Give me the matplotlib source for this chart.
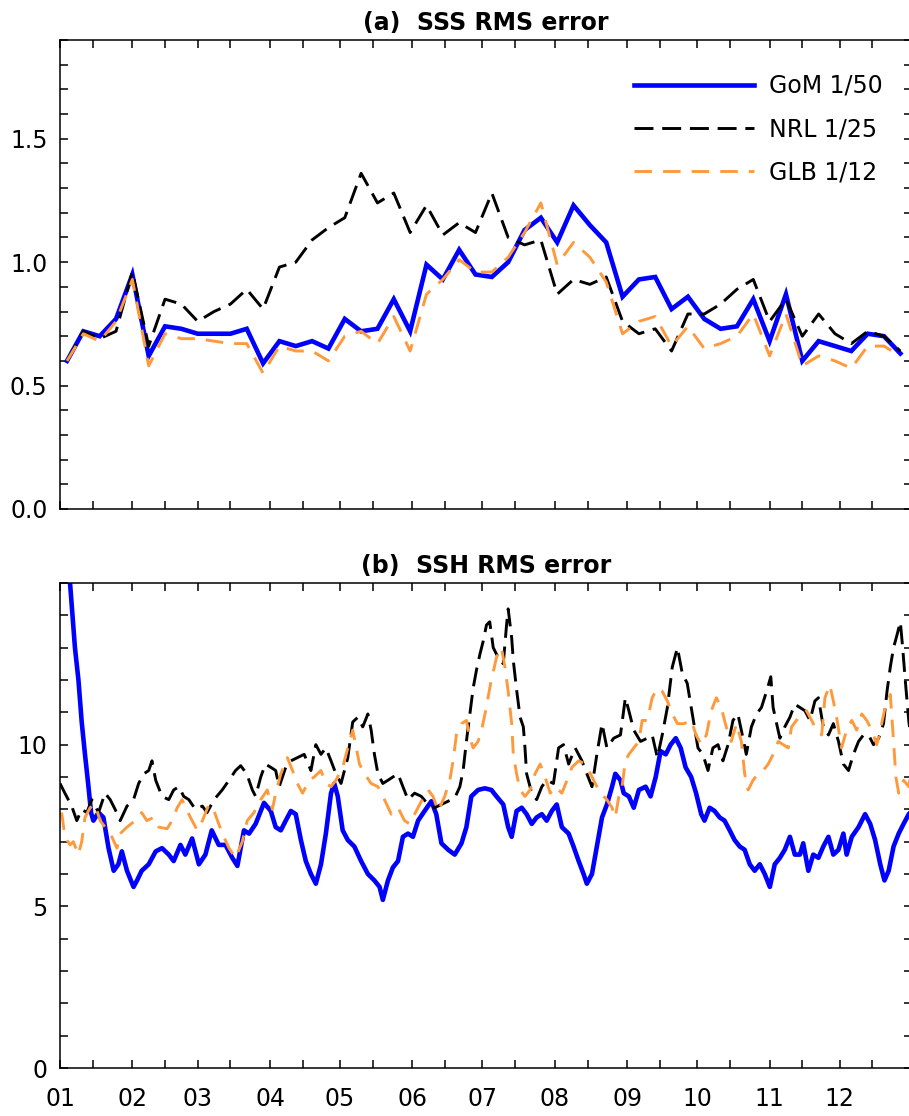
import numpy as np
import matplotlib
matplotlib.use("Agg")
import matplotlib.pyplot as plt
from matplotlib.ticker import FixedLocator, MultipleLocator, NullFormatter

plt.rcParams['font.family'] = ['DejaVu Sans']

# ---------------- data ----------------
month_labels = ['01', '02', '03', '04', '05', '06', '07', '08', '09', '10', '11', '12']
month_start_days = [0, 31, 59, 90, 120, 151, 181, 212, 243, 273, 304, 334]
mid_month_days = [14, 45, 73, 104, 134, 165, 195, 226, 257, 287, 318, 348]

series_names = ['GoM 1/50', 'NRL 1/25', 'GLB 1/12']

sss_yticks = [0.0, 0.5, 1.0, 1.5]
ssh_yticks = [0, 5, 10]

# (a) SSS RMS error, weekly values
sss_week_days = list(range(3, 365, 7))
sss_gom = [0.60, 0.72, 0.70, 0.77, 0.95, 0.62, 0.74, 0.73, 0.71, 0.71,
           0.71, 0.73, 0.59, 0.68, 0.66, 0.68, 0.65, 0.77, 0.72, 0.73,
           0.85, 0.72, 0.99, 0.93, 1.05, 0.95, 0.94, 1.00, 1.13, 1.18,
           1.08, 1.23, 1.15, 1.08, 0.86, 0.93, 0.94, 0.81, 0.86, 0.77,
           0.73, 0.74, 0.85, 0.68, 0.87, 0.60, 0.68, 0.66, 0.64, 0.71,
           0.70, 0.63]
sss_nrl = [0.60, 0.72, 0.69, 0.72, 0.96, 0.66, 0.85, 0.83, 0.76, 0.80,
           0.83, 0.89, 0.81, 0.98, 1.00, 1.09, 1.14, 1.18, 1.36, 1.24,
           1.28, 1.12, 1.23, 1.11, 1.16, 1.12, 1.28, 1.10, 1.07, 1.09,
           0.87, 0.93, 0.91, 0.94, 0.76, 0.71, 0.73, 0.64, 0.79, 0.79,
           0.83, 0.89, 0.93, 0.76, 0.85, 0.70, 0.79, 0.71, 0.67, 0.72,
           0.70, 0.64]
sss_glb = [0.60, 0.71, 0.68, 0.76, 0.93, 0.58, 0.71, 0.69, 0.69, 0.68,
           0.67, 0.67, 0.55, 0.66, 0.64, 0.64, 0.60, 0.70, 0.72, 0.67,
           0.78, 0.64, 0.87, 0.93, 1.01, 0.96, 0.96, 1.02, 1.12, 1.24,
           0.99, 1.08, 1.02, 0.92, 0.71, 0.76, 0.78, 0.66, 0.74, 0.65,
           0.67, 0.70, 0.79, 0.62, 0.79, 0.58, 0.62, 0.60, 0.57, 0.66,
           0.66, 0.62]

# (b) SSH RMS error (day of year, value)
ssh_gom_days = [0, 4.3, 6.4, 7.9, 9.3, 10.7, 12.2, 13.3, 14.3, 16.5, 18.6, 20.8, 23, 25, 26.5,
                28.7, 31.5, 33, 35, 38, 41, 43.7, 46.6, 48.7, 51.6, 53.7, 56.6, 59.5, 62.3, 65,
                68, 70.9, 73.8, 76, 78.8, 81, 83.8, 87.4, 90.3, 92.4, 94.6, 96.7, 98.9, 101,
                103.2, 105.3, 107.5, 109.6, 111.8, 113.9, 116.1, 117.5, 119, 121.1, 123.3,
                126.1, 129, 131.9, 134.7, 136.9, 138.3, 140.5, 142.6, 144.8, 146.9, 149.1,
                151.2, 153.4, 156.2, 159.1, 161.2, 163.4, 166.3, 169.1, 172, 174.1, 176.2,
                179.1, 182, 184.8, 187, 189.9, 192, 193.5, 195.6, 197.8, 199.9, 202.1, 204.2,
                206.4, 208.5, 210.7, 212.8, 215, 217.9, 220, 222.2, 224.3, 225.7, 227.9, 230,
                232.2, 234.3, 236.5, 237.9, 240.1, 241.5, 243.7, 245.8, 248, 250.9, 253, 255.2,
                257.3, 259.5, 261.6, 263.8, 265.9, 268, 270.4, 272.5, 274.7, 276.1, 278.3,
                280.4, 282.6, 284.7, 286.9, 289, 291.2, 293.3, 295.5, 297.6, 299.8, 301.9,
                304.1, 306.2, 308.4, 310.5, 312.7, 314.8, 317, 318.4, 320.6, 322.7, 324.9, 327,
                329.2, 331.3, 333.5, 335.6, 337, 339.2, 342.1, 344.9, 347.1, 349.2, 351.4,
                353.2, 355, 357.1, 359.3, 361.4, 363.6, 364.3, 365]
ssh_gom_vals = [18.0, 15.0, 13.0, 12.0, 10.7, 9.7, 8.7, 7.9, 7.65, 7.9, 7.75, 6.8, 6.1, 6.3, 6.7,
                6.1, 5.6, 5.8, 6.1, 6.3, 6.7, 6.8, 6.6, 6.4, 6.9, 6.6, 7.1, 6.3, 6.6, 7.35,
                6.9, 6.9, 6.5, 6.25, 7.35, 7.25, 7.55, 8.2, 7.95, 7.45, 7.35, 7.65, 7.95, 7.85,
                7.05, 6.4, 6.0, 5.7, 6.3, 7.25, 8.5, 8.8, 8.4, 7.35, 7.05,
                6.85, 6.4, 6.0, 5.8, 5.6, 5.2, 5.8, 6.2, 6.4, 7.15, 7.25,
                7.15, 7.65, 7.95, 8.25, 7.85, 6.95, 6.75, 6.6, 6.95, 7.45, 8.4,
                8.6, 8.65, 8.6, 8.4, 8.15, 7.45, 7.15, 7.95, 8.05, 7.85, 7.55, 7.75,
                7.85, 7.65, 7.95, 8.15, 7.45, 7.25, 6.85, 6.4, 6.0, 5.7, 6.0, 6.85,
                7.75, 8.15, 8.7, 9.1, 8.9, 8.5, 8.4, 8.05, 8.6, 8.7, 8.4, 9.0,
                9.8, 9.7, 10.0, 10.2, 9.9, 9.3, 9.0, 8.5, 7.85, 7.65, 8.05,
                7.95, 7.75, 7.65, 7.35, 7.05, 6.85, 6.75, 6.3, 6.1, 6.3, 6.0,
                5.6, 6.3, 6.5, 6.75, 7.15, 6.6, 6.6, 6.95, 6.1, 6.6, 6.5, 6.85,
                7.15, 6.6, 6.75, 7.25, 6.6, 7.15, 7.45, 7.85, 7.55, 7.05, 6.3,
                5.8, 6.1, 6.85, 7.25, 7.55, 7.85, 7.9, 6.6]

ssh_nrl_days = [0, 2.1, 5, 7.2, 9.3, 11.5, 13.6, 16.5, 19.3, 21.5, 23.6, 25.8, 28.7, 31.5, 33.7,
                35.9, 38, 39.4, 41, 43.7, 46.6, 48.7, 50.9, 53, 55.2, 58, 61, 63, 66, 69.5, 72.4,
                75.2, 77.4, 80, 82.4, 83.8, 86, 88, 90.3, 92.4, 93.9, 96.7, 98.9, 101.7, 104.6,
                107.5, 109.6, 111.8, 113.9, 116.1, 118.2, 120.4, 123.3, 125.4, 127.6, 129.7,
                131.9, 133.3, 134.7, 136.2, 138.3, 140.5, 142.6, 144.8, 146.9, 149.1, 151.9,
                154.8, 157.7, 160.5, 163.4, 166.3, 169.1, 171.3, 172.7, 174.1, 175.6, 177,
                178.4, 179.9, 181.3, 182.7, 184.1, 185.6, 187.7, 189.9, 191.3, 192, 193.5,
                194.2, 195.6, 197.1, 198.5, 199.2, 199.9, 202.1, 204.2, 206.4, 208.5, 211.4,
                213.6, 215.7, 217.9, 220.7, 223.6, 225.7, 227.9, 230, 232.2, 234.3, 237.2,
                240.1, 242.2, 243.7, 245.8, 248.7, 251.6, 253.7, 255.9, 258, 260.2, 262.3,
                264.5, 266.6, 268.7, 270.4, 271.8, 273.3, 275.4, 277.6, 279.7, 281.9, 284,
                286.2, 288.3, 290.4, 292.6, 294, 296.2, 298.4, 300.5, 302.7, 304.5, 305.5, 307,
                308.4, 310.5, 312.7, 314.8, 317, 319.1, 321.3, 323.4, 324.9, 327, 329.2, 331.3,
                333.5, 335.6, 337.8, 339.9, 342.1, 344.2, 346.4, 348.5, 350.7, 352.8, 354.3,
                355.7, 357.1, 358.6, 360, 361, 362.1, 363.6, 365]
ssh_nrl_vals = [8.8, 8.5, 8.1, 7.65, 8.0, 7.9, 8.3, 7.9, 8.5, 8.3, 8.0, 7.65, 8.1, 8.3, 8.8,
                9.1, 9.2, 9.5, 8.9, 8.4, 8.3, 8.6, 8.7, 8.4, 8.3, 8.0, 8.1, 7.9, 8.3, 8.6, 8.9,
                9.2, 9.35, 9.1, 8.6, 8.4, 9.0, 9.4, 9.3, 9.2, 8.7, 9.3, 9.5, 9.6, 9.7,
                9.2, 10.0, 9.7, 9.9, 9.5, 9.1, 8.8, 9.6, 10.7, 10.85, 10.55,
                10.95, 10.45, 9.7, 9.1, 8.8, 8.9, 9.0, 9.1, 8.7, 8.3, 8.5,
                8.4, 8.15, 8.05, 8.15, 8.25, 8.35, 8.7, 9.2, 10.1, 10.95, 11.75,
                12.3, 12.8, 13.2, 13.7, 13.8, 13.0, 12.7, 12.5, 13.7, 14.2, 13.3,
                12.6, 11.7, 10.85, 10.55, 9.9, 9.1, 8.5, 8.3, 8.7, 8.9, 8.8,
                9.9, 10.0, 9.4, 9.9, 9.5, 9.1, 8.7, 9.7, 10.65, 9.9, 10.2,
                10.3, 11.45, 11.05, 10.45, 10.1, 10.2, 10.3, 9.6, 10.3, 11.15, 12.4,
                13.0, 12.2, 11.9, 11.15, 10.55, 9.9, 9.7, 9.2, 9.9, 10.0, 9.5,
                10.0, 10.75, 10.95, 10.2, 9.7, 10.55, 10.95, 11.15, 11.65, 12.1, 11.15, 10.65,
                10.2, 10.55, 10.85, 11.25, 11.15, 11.05, 10.75, 11.35, 11.45, 10.55, 10.3, 10.65,
                10.1, 9.4, 9.2, 9.7, 10.1, 10.3, 10.3, 10.0, 10.2, 10.65, 11.65,
                12.4, 13.0, 13.4, 13.8, 13.0, 12.0, 10.75, 9.9]

ssh_glb_days = [0.7, 2.1, 4.3, 5.7, 7.9, 9.3, 10.7, 12.9, 15, 17.2, 19.3, 22.2, 24.4, 25.8, 28.7,
                32.2, 35, 37.2, 40.1, 42.3, 45.9, 48, 50.2, 52.3, 54.5, 56.6, 58.8, 61, 63.8, 66,
                68, 70.2, 72.4, 75.2, 78.1, 80.2, 83.1, 86, 88.8, 91, 92.4, 94.6, 97.4, 99.6,
                101.7, 103.9, 106.8, 108.9, 111.8, 113.9, 116.1, 118.2, 121.1, 123.3, 125.4,
                126.9, 128.3, 130.5, 133.3, 136.2, 139, 141.9, 144.8, 147.6, 149.8, 151.9,
                154.8, 157.7, 159.8, 162, 164.8, 167, 168.4, 169.8, 172, 174.1, 175.6, 177,
                179.1, 180.6, 182.5, 184.5, 187, 189.1, 190.6, 192, 193.5, 194.2, 195.6, 197.1,
                199.2, 201.4, 203.5, 205.7, 207.8, 210, 212.2, 215, 217.2, 219.3, 222.2, 225,
                227.2, 229.3, 231.5, 234.3, 236.5, 237.9, 239.4, 240.8, 242.2, 243.7, 245.8,
                248, 249.4, 251.6, 253.7, 255.9, 258, 260.2, 262.3, 264.5, 267.3, 270.4,
                272.5, 274.7, 276.9, 279, 281.2, 283.3, 285.4, 287.6, 289.8, 291.9, 293.3,
                294.8, 296.9, 299.1, 301.2, 303.4, 305.5, 307.7, 309.8, 312, 313.4, 315.5,
                317.7, 319.8, 322, 324.1, 326.3, 327.7, 329.8, 331.3, 332.7, 334.8, 337, 339.2,
                341.3, 343.5, 345.6, 347.8, 349.9, 351.4, 353.5, 355.7, 357.1, 358.1, 359.3,
                361.4, 363.6, 365]
ssh_glb_vals = [7.9, 7.15, 6.9, 7.0, 6.6, 7.0, 7.75, 8.05, 8.15, 7.65, 7.45, 7.15, 6.8, 7.25, 7.45,
                7.65, 7.9, 7.65, 7.75, 7.45, 7.4, 7.65, 8.05, 8.3, 7.95, 7.65, 7.35, 7.65, 8.15, 7.95,
                7.55, 7.15, 6.8, 6.5, 7.0, 7.65, 7.9, 8.3, 8.6, 8.0, 8.5, 9.1, 9.6, 9.2,
                8.8, 8.5, 8.9, 9.0, 9.2, 8.8, 8.7, 8.9, 9.3, 9.9, 10.45,
                9.9, 9.4, 9.1, 8.8, 8.7, 8.3, 7.85, 8.05, 7.65, 7.55, 7.85,
                8.25, 8.6, 8.4, 7.95, 8.4, 8.9, 9.5, 10.3, 10.65, 10.75, 10.2, 9.9,
                10.1, 10.45, 11.1, 11.9, 12.7, 13.0, 12.4, 11.65, 10.65, 9.7, 9.1, 8.6,
                8.4, 8.6, 9.1, 9.4, 9.0, 8.5, 8.7, 8.5, 8.9, 9.3, 9.5, 9.4,
                9.1, 8.8, 8.5, 8.3, 8.05, 7.75, 8.4, 8.7, 9.5, 9.7, 9.9,
                10.1, 10.75, 10.75, 11.45, 11.75, 11.65, 11.35, 10.95, 10.65, 10.65, 10.75,
                10.3, 10.0, 10.3, 11.05, 11.45, 11.15, 10.55, 10.1, 10.65, 10.1, 9.1,
                8.6, 8.9, 9.1, 9.2, 9.4, 9.7, 10.1, 10.0, 9.9, 10.55, 10.75,
                10.95, 11.05, 10.75, 10.45, 10.3, 11.45, 11.85, 11.35, 10.85, 9.9, 10.45, 10.75,
                10.45, 10.95, 10.75, 10.45, 10.0, 10.45, 11.15, 11.55, 10.1, 9.0, 8.5,
                8.9, 8.7, 9.3]

# ---------------- styles ----------------
c_gom = '#0000FF'
c_nrl = '#000000'
c_glb = '#FF9A3C'
lw_gom = 3.3
lw_dash = 2.1
fs = 17

W, H = 909, 1116
fig = plt.figure(figsize=(W / 100, H / 100), dpi=100)
left_px, right_px = 60, 912
ax1 = fig.add_axes([left_px / W, 1 - 509 / H, (right_px - left_px) / W, 469 / H])
ax2 = fig.add_axes([left_px / W, 1 - 1068 / H, (right_px - left_px) / W, 485 / H])


def style_axis(ax, ymax, yticks, yminor, show_xlabels, fmt):
    ax.set_xlim(0, 365)
    ax.set_ylim(0, ymax)
    ax.xaxis.set_major_locator(FixedLocator(month_start_days))
    ax.xaxis.set_minor_locator(FixedLocator(mid_month_days))
    if show_xlabels:
        ax.set_xticklabels(month_labels)
    else:
        ax.xaxis.set_major_formatter(NullFormatter())
    ax.yaxis.set_major_locator(FixedLocator(yticks))
    ax.set_yticklabels([fmt.format(v) for v in yticks])
    ax.yaxis.set_minor_locator(MultipleLocator(yminor))
    ax.tick_params(axis='both', which='both', direction='in', top=True, right=True,
                   length=6, width=1.1, labelsize=fs, pad=9, colors='black')
    ax.tick_params(axis='x', which='major', pad=14)
    for s in ax.spines.values():
        s.set_linewidth(1.1)


# (a)
ax1.plot(sss_week_days, sss_gom, color=c_gom, lw=lw_gom, label=series_names[0],
         solid_joinstyle='miter')
ax1.plot(sss_week_days, sss_nrl, color=c_nrl, lw=lw_dash, dashes=(6.5, 3.0), label=series_names[1])
ax1.plot(sss_week_days, sss_glb, color=c_glb, lw=lw_dash, dashes=(6.0, 3.8), label=series_names[2])
style_axis(ax1, 1.9, sss_yticks, 0.1, False, "{:.1f}")
ax1.set_title('(a)  SSS RMS error', fontsize=17, fontweight='bold', pad=7)
leg = ax1.legend(loc='upper right', bbox_to_anchor=(0.966, 0.928), frameon=False,
                 fontsize=fs, handlelength=5.1, handletextpad=0.65, labelspacing=0.82,
                 borderpad=0, borderaxespad=0)

# (b)
ax2.plot(ssh_gom_days, ssh_gom_vals, color=c_gom, lw=lw_gom)
ax2.plot(ssh_nrl_days, ssh_nrl_vals, color=c_nrl, lw=lw_dash, dashes=(6.5, 3.0))
ax2.plot(ssh_glb_days, ssh_glb_vals, color=c_glb, lw=lw_dash, dashes=(6.0, 3.8))
style_axis(ax2, 15, ssh_yticks, 1, True, "{:d}")
ax2.set_title('(b)  SSH RMS error', fontsize=17, fontweight='bold', pad=7)

fig.savefig('out.png', dpi=100)
